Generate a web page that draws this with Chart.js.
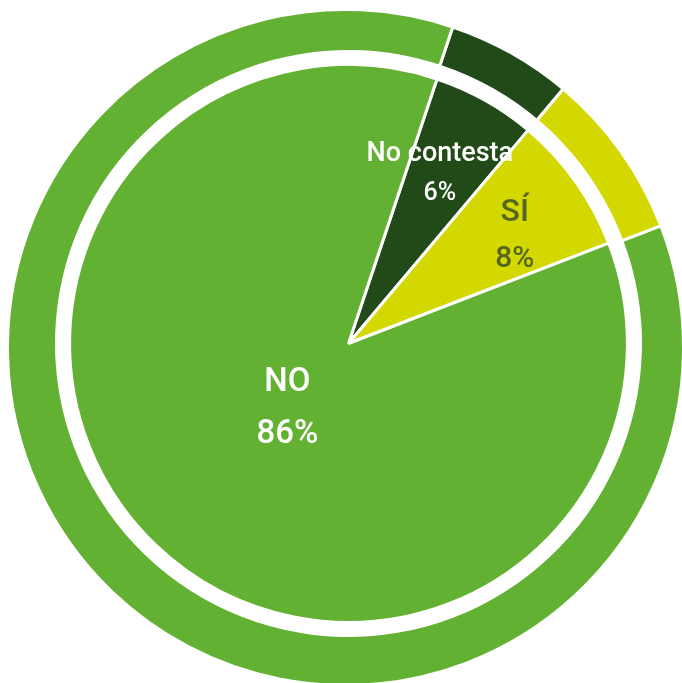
<!DOCTYPE html>
<html>
<head>
<meta charset="utf-8">
<script src="https://cdn.jsdelivr.net/npm/chart.js@4"></script>
<style>
  html, body { margin: 0; padding: 0; background: #ffffff; overflow: hidden; }
  #ringWrap { position: absolute; left: 6px; top: 8px; }
  #pieWrap { position: absolute; left: 55px; top: 50px; }
</style>
</head>
<body>
<div id="ringWrap"><canvas id="ringChart" width="679" height="679"></canvas></div>
<div id="pieWrap"><canvas id="pieChart" width="587" height="587"></canvas></div>
<script>
// Respuestas (orden horario, empezando arriba a la derecha)
const categories = ['No contesta', 'SÍ', 'NO'];
const values = [6, 8, 86];
const pctLabels = ['6%', '8%', '86%'];

const sliceColors = ['#224a18', '#d3d800', '#63b132'];
const textColors = ['#ffffff', '#56661e', '#ffffff'];

// dibuja el nombre y el porcentaje dentro de cada porcion del circulo interior
const sliceLabels = {
    id: 'sliceLabels',
    afterDatasetsDraw(chart) {
        const meta = chart.getDatasetMeta(1);
        const ctx = chart.ctx;
        const radial = [0.7, 0.715, 0.313];
        const turn = [-1.4, 2, 0.8];
        const nameSize = [27, 32, 33];
        const pctSize = [25, 30, 33];
        const gap = [40, 46, 52];
        ctx.save();
        ctx.textAlign = 'center';
        ctx.textBaseline = 'middle';
        meta.data.forEach(function (arc, i) {
            const mid = (arc.startAngle + arc.endAngle) / 2 + turn[i] * Math.PI / 180;
            const r = arc.outerRadius * radial[i];
            const x = arc.x + Math.cos(mid) * r;
            const y = arc.y + Math.sin(mid) * r + 3;
            ctx.fillStyle = textColors[i];
            ctx.font = '500 ' + nameSize[i] + 'px Roboto';
            ctx.fillText(categories[i], x, y - gap[i] / 2);
            ctx.font = '500 ' + pctSize[i] + 'px Roboto';
            ctx.fillText(pctLabels[i], x, y + gap[i] / 2);
        });
        ctx.restore();
    }
};

const baseOptions = {
    responsive: false,
    animation: false,
    cutout: 0,
    rotation: 18.5,
    layout: { padding: 0 },
    plugins: {
        legend: { display: false },
        tooltip: { enabled: false }
    }
};

// anillo exterior
new Chart('ringChart', {
    type: 'doughnut',
    data: {
        labels: categories,
        datasets: [{
            data: values,
            backgroundColor: sliceColors,
            borderColor: '#ffffff',
            borderWidth: 3
        }]
    },
    options: baseOptions
});

// separacion blanca + circulo interior
new Chart('pieChart', {
    type: 'doughnut',
    data: {
        labels: categories,
        datasets: [
            {
                data: [100],
                backgroundColor: '#ffffff',
                borderWidth: 0,
                weight: 14.5
            },
            {
                data: values,
                backgroundColor: sliceColors,
                borderColor: '#ffffff',
                borderWidth: 3,
                weight: 277.5
            }
        ]
    },
    options: baseOptions,
    plugins: [sliceLabels]
});
</script>
</body>
</html>
